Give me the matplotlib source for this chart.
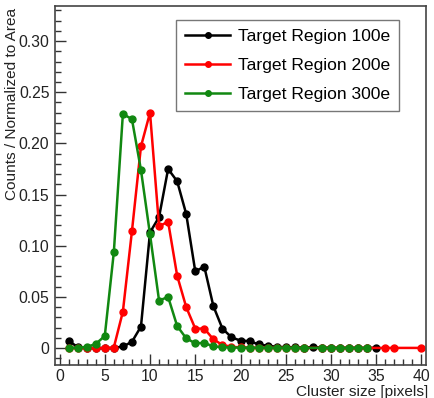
import matplotlib
matplotlib.use("Agg")
import matplotlib.pyplot as plt
from matplotlib.ticker import MultipleLocator, FuncFormatter

plt.rcParams['font.family'] = ['Liberation Sans', 'DejaVu Sans']

# cluster size distributions, normalized to unit area
x_100 = list(range(1, 36))
y_100 = [0.007, 0.001, 0.0, 0.0, 0.0, 0.0, 0.0015, 0.006, 0.021, 0.113,
         0.128, 0.175, 0.163, 0.131, 0.075, 0.0795, 0.041, 0.019, 0.0105, 0.0072,
         0.0068, 0.0035, 0.0022, 0.0012, 0.0008, 0.0006, 0.0005, 0.0009, 0.0004, 0.0003,
         0.0003, 0.0002, 0.0002, 0.0001, 0.0002]

x_200 = list(range(1, 28)) + list(range(29, 35)) + [36, 37, 40]
y_200 = [0.0, 0.0, 0.0, 0.0, 0.0, 0.0005, 0.0355, 0.114, 0.197, 0.230,
         0.119, 0.1235, 0.0707, 0.040, 0.019, 0.019, 0.0085, 0.003, 0.0012, 0.0006,
         0.0005, 0.0003, 0.0003, 0.0002, 0.0002, 0.0001, 0.0001,
         0.0001, 0.0001, 0.0001, 0.0001, 0.0001, 0.0001, 0.0001, 0.0001, 0.0001]

x_300 = list(range(1, 28)) + list(range(29, 35))
y_300 = [0.0, 0.0005, 0.001, 0.004, 0.0117, 0.0935, 0.2287, 0.2238, 0.174, 0.111,
         0.0463, 0.050, 0.0215, 0.0095, 0.0046, 0.005, 0.0015, 0.0008, 0.0005, 0.0004,
         0.0003, 0.0003, 0.0002, 0.0002, 0.0002, 0.0001, 0.0001,
         0.0001, 0.0001, 0.0001, 0.0001, 0.0001, 0.0001]

labels = ['Target Region 100e', 'Target Region 200e', 'Target Region 300e']
colors = ['black', '#ff0000', '#118811']

fig = plt.figure(figsize=(4.34, 3.98), dpi=100)
ax = fig.add_axes([55 / 434, 33 / 398, 371 / 434, 359 / 398])

for xs, ys, lab, col in zip([x_100, x_200, x_300], [y_100, y_200, y_300], labels, colors):
    ax.plot(xs, ys, '-o', color=col, lw=1.8, ms=5, label=lab)

ax.set_xlim(-0.5, 40.5)
ax.set_ylim(-0.0166, 0.3343)

ax.xaxis.set_major_locator(MultipleLocator(5))
ax.xaxis.set_minor_locator(MultipleLocator(1))
ax.yaxis.set_major_locator(MultipleLocator(0.05))
ax.yaxis.set_minor_locator(MultipleLocator(0.01))
ax.yaxis.set_major_formatter(FuncFormatter(lambda v, p: '0' if abs(v) < 1e-9 else '%.2f' % v))

ax.tick_params(which='both', direction='in', top=False, right=False, colors='#333333',
               labelcolor='#222222', labelsize=11.3)
ax.tick_params(which='major', length=8, width=1)
ax.tick_params(which='minor', length=4, width=1)
ax.tick_params(axis='y', pad=4)
ax.tick_params(axis='x', pad=3)
for s in ax.spines.values():
    s.set_color('#444444')
    s.set_linewidth(1.2)

fig.text(12 / 434, 1 - 8 / 398, 'Counts / Normalized to Area', rotation=90,
         ha='center', va='top', fontsize=11.1, color='#222222')
fig.text(428 / 434, 1 - 396 / 398, 'Cluster size [pixels]', ha='right', va='baseline',
         fontsize=11.1, color='#222222')

leg = ax.legend(loc='upper left', bbox_to_anchor=(176 / 434, 1 - 20 / 398),
                bbox_transform=fig.transFigure, borderaxespad=0, fontsize=12.6,
                handlelength=2.6, handletextpad=0.45, labelspacing=0.8, borderpad=0.5,
                fancybox=False, framealpha=1, edgecolor='#777777', markerscale=0.8)
leg.get_frame().set_linewidth(1.0)

fig.savefig('out.png', dpi=100)
